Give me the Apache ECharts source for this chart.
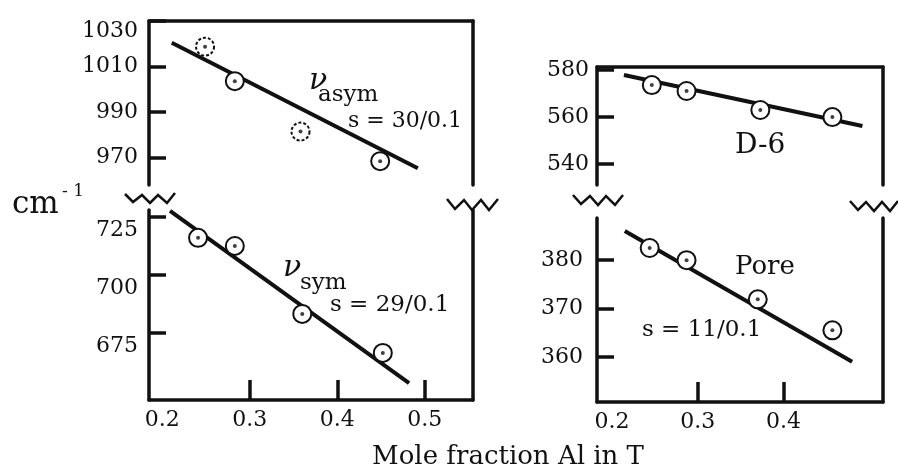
<!DOCTYPE html>
<html>
<head>
<meta charset="utf-8">
<script src="https://cdn.jsdelivr.net/npm/echarts@6/dist/echarts.min.js"></script>
<style>
html,body{margin:0;padding:0;background:#fff;}
#chart{width:898px;height:469px;}
</style>
</head>
<body>
<div id="chart"></div>
<script>
// ---- data ----
const asymX = [0.249, 0.283, 0.358, 0.449];
const asymY = [1018.7, 1003.5, 981.3, 968.3];
const asymFitX = [0.211, 0.492];
const asymFitY = [1020.4, 965.2];

const symX = [0.241, 0.283, 0.360, 0.452];
const symY = [716.0, 712.5, 683.2, 666.4];
const symFitX = [0.209, 0.482];
const symFitY = [727.6, 653.4];

const d6X = [0.2465, 0.287, 0.373, 0.457];
const d6Y = [573.6, 571.1, 563.0, 560.0];
const d6FitX = [0.214, 0.492];
const d6FitY = [577.9, 556.2];

const poreX = [0.244, 0.287, 0.370, 0.457];
const poreY = [382.5, 380.0, 371.9, 365.5];
const poreFitX = [0.215, 0.480];
const poreFitY = [386.0, 359.0];

const leftXLabels = [0.2, 0.3, 0.4, 0.5];
const leftXTicks = [0.3, 0.4, 0.5];
const rightXLabels = [0.2, 0.3, 0.4];
const rightXTicks = [0.3, 0.4];
const asymTicks = [970, 990, 1010, 1030];
const symTicks = [675, 700, 725];
const d6Ticks = [540, 560, 580];
const poreTicks = [360, 370, 380];

// ---- styling ----
const INK = '#111';
const FONT = '"DejaVu Serif", serif';
const faintAsym = [0, 2];

function pairs(xs, ys) { return xs.map((x, i) => [x, ys[i]]); }

const tickStyle = { show: true, inside: true, length: 17, lineStyle: { color: INK, width: 3.5 } };
const lineStyle = { show: true, lineStyle: { color: INK, width: 3.5 } };

function frameX(gi, min, max) {
  return { gridIndex: gi, type: 'value', position: 'top', min, max,
    axisLine: lineStyle, axisTick: { show: false }, axisLabel: { show: false }, splitLine: { show: false } };
}
function bottomX(gi, min, max, labels, ticks) {
  return { gridIndex: gi, type: 'value', position: 'bottom', min, max,
    axisLine: lineStyle,
    axisTick: Object.assign({}, tickStyle, { length: 20, customValues: ticks }),
    axisLabel: { customValues: labels, formatter: v => v.toFixed(1), color: INK,
      fontFamily: FONT, fontSize: 22, margin: 9 },
    splitLine: { show: false } };
}
function leftY(gi, min, max, ticks, extraLabel) {
  const lab = { customValues: ticks, color: INK, fontFamily: FONT, fontSize: 22, margin: 11,
    formatter: v => String(v) };
  Object.assign(lab, extraLabel || {});
  return { gridIndex: gi, type: 'value', position: 'left', min, max,
    axisLine: lineStyle,
    axisTick: Object.assign({}, tickStyle, { customValues: ticks }),
    axisLabel: lab, splitLine: { show: false } };
}
function rightY(gi, min, max) {
  return { gridIndex: gi, type: 'value', position: 'right', min, max,
    axisLine: lineStyle, axisTick: { show: false }, axisLabel: { show: false }, splitLine: { show: false } };
}

function fitSeries(xi, yi, xs, ys) {
  return { type: 'line', xAxisIndex: xi, yAxisIndex: yi, data: pairs(xs, ys), symbol: 'none',
    clip: false, z: 2, lineStyle: { color: INK, width: 4 }, silent: true, animation: false };
}
function circleSeries(xi, yi, xs, ys, faint) {
  const data = pairs(xs, ys).map((p, i) => {
    if (faint && faint.indexOf(i) >= 0) {
      return { value: p, itemStyle: { borderType: [3, 2] } };
    }
    return { value: p };
  });
  return { type: 'scatter', xAxisIndex: xi, yAxisIndex: yi, data, symbol: 'circle', symbolSize: 18,
    z: 3, itemStyle: { color: '#fff', borderColor: INK, borderWidth: 2, opacity: 1 }, animation: false };
}
function dotSeries(xi, yi, xs, ys) {
  return { type: 'scatter', xAxisIndex: xi, yAxisIndex: yi, data: pairs(xs, ys), symbol: 'circle',
    symbolSize: 4, z: 4, itemStyle: { color: INK }, animation: false };
}

function txt(text, x, y, size, extra) {
  return { type: 'text', z: 10, style: Object.assign({
    text, x, y, fill: INK, font: size + 'px ' + FONT, textAlign: 'left', textVerticalAlign: 'middle'
  }, extra || {}) };
}
function zig(points) {
  return { type: 'polyline', z: 10, shape: { points }, style: { stroke: INK, lineWidth: 2.5, fill: null } };
}

const option = {
  backgroundColor: '#fff',
  animation: false,
  grid: [
    { left: 149, top: 19, width: 324, height: 166 },
    { left: 149, top: 210, width: 324, height: 190 },
    { left: 597, top: 67, width: 286, height: 118 },
    { left: 597, top: 218, width: 286, height: 184 }
  ],
  xAxis: [
    frameX(0, 0.185, 0.555),
    bottomX(1, 0.185, 0.555, leftXLabels, leftXTicks),
    frameX(2, 0.1826, 0.516),
    bottomX(3, 0.1826, 0.516, rightXLabels, rightXTicks)
  ],
  yAxis: [
    leftY(0, 957.8, 1030, asymTicks, { lineHeight: 20,
      formatter: v => (v === asymTicks[asymTicks.length - 1] ? '\n' + v : String(v)) }),
    rightY(0, 957.8, 1030),
    leftY(1, 646.1, 728, symTicks, { lineHeight: 26, formatter: v => '\n' + v }),
    rightY(1, 646.1, 728),
    leftY(2, 531.1, 581.3, d6Ticks, { margin: 8 }),
    rightY(2, 531.1, 581.3),
    leftY(3, 350.7, 388.7, poreTicks, { margin: 14 }),
    rightY(3, 350.7, 388.7)
  ],
  series: [
    fitSeries(0, 0, asymFitX, asymFitY),
    circleSeries(0, 0, asymX, asymY, faintAsym),
    dotSeries(0, 0, asymX, asymY),
    fitSeries(1, 2, symFitX, symFitY),
    circleSeries(1, 2, symX, symY),
    dotSeries(1, 2, symX, symY),
    fitSeries(2, 4, d6FitX, d6FitY),
    circleSeries(2, 4, d6X, d6Y),
    dotSeries(2, 4, d6X, d6Y),
    fitSeries(3, 6, poreFitX, poreFitY),
    circleSeries(3, 6, poreX, poreY),
    dotSeries(3, 6, poreX, poreY)
  ],
  graphic: [
    txt('ν', 309, 81, 30, { font: 'italic 30px ' + FONT }),
    txt('asym', 318, 95, 23),
    txt('s = 30/0.1', 348, 121, 22),
    txt('ν', 283, 268, 30, { font: 'italic 30px ' + FONT }),
    txt('sym', 300, 283, 23),
    txt('s = 29/0.1', 330, 305, 23),
    txt('D-6', 735, 146, 28),
    txt('Pore', 735, 267, 26),
    txt('s = 11/0.1', 642, 330, 23),
    txt('cm', 12, 205, 31),
    txt('- 1', 62, 192, 17),
    txt('Mole fraction Al in T', 508, 457, 26, { textAlign: 'center' }),
    zig([[125,194],[133,202],[142,195],[150,203],[158,195],[167,203],[175,193]]),
    zig([[447,199],[455,209],[464,200],[472,210],[481,200],[489,210],[498,199]]),
    zig([[573,195],[581,204],[590,196],[598,205],[606,196],[615,205],[623,195]]),
    zig([[850,201],[858,210],[866,202],[874,211],[882,202],[890,211],[898,201]])
  ]
};

const chart = echarts.init(document.getElementById('chart'), null, { renderer: 'canvas' });
chart.setOption(option);
</script>
</body>
</html>
